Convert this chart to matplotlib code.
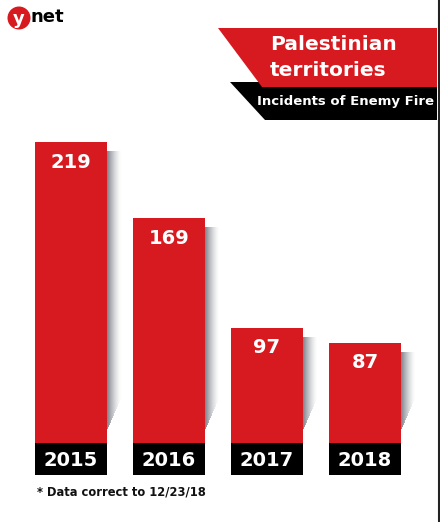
import numpy as np
import matplotlib.pyplot as plt
from matplotlib.patches import Polygon, Circle, Rectangle

years = ['2015', '2016', '2017', '2018']
incidents = [219, 169, 97, 87]

title_lines = ['Palestinian', 'territories']
subtitle = 'Incidents of Enemy Fire'
note = '* Data correct to 12/23/18'

RED = '#d71920'
W, H = 440, 522

fig = plt.figure(figsize=(W / 100, H / 100), dpi=100)
fig.patch.set_facecolor('white')

# bar axes: baseline at y=475px, 1.52 px per incident
px_per_unit = 1.52
ymax = 230
ax = fig.add_axes([0, 47 / H, 1, ymax * px_per_unit / H])
ax.set_xlim(-71 / 98, (W - 71) / 98)
ax.set_ylim(0, ymax)
ax.axis('off')

x = np.arange(len(years))
bw = 72 / 98
box_h = 32 / px_per_unit

# soft shadow on the right of each bar
for xi, v in zip(x, incidents):
    n = 14
    for k in range(n):
        a = 0.75 * (1 - k / n) ** 1.5
        ax.add_patch(Rectangle((xi + bw / 2 + k / 98, 30 + k * 1.5),
                               1 / 98, v - 30 - k * 1.5 - 6,
                               color='#5a5f6a', alpha=a, lw=0, zorder=1))

ax.bar(x, incidents, width=bw, color=RED, zorder=2)
ax.bar(x, [box_h] * len(x), width=bw, color='black', zorder=3)

for xi, v, yr in zip(x, incidents, years):
    ax.text(xi, v - 20 / px_per_unit, str(v), color='white', fontsize=14,
            fontweight='bold', ha='center', va='center', zorder=4)
    ax.text(xi, box_h / 2 - 1, yr, color='white', fontsize=14,
            fontweight='bold', ha='center', va='center', zorder=4)

# overlay in pixel coordinates
ov = fig.add_axes([0, 0, 1, 1], zorder=5)
ov.set_xlim(0, W)
ov.set_ylim(H, 0)
ov.axis('off')
ov.patch.set_alpha(0)

ov.add_patch(Polygon([(230, 82), (437, 82), (437, 120), (265, 120)],
                     closed=True, color='black', lw=0))
ov.add_patch(Polygon([(218, 28), (437, 28), (437, 87), (262, 87)],
                     closed=True, color=RED, lw=0))
ov.text(270, 45, title_lines[0], color='white', fontsize=14.5, fontweight='bold',
        ha='left', va='center')
ov.text(270, 70, title_lines[1], color='white', fontsize=14.5, fontweight='bold',
        ha='left', va='center')
ov.text(257, 102, subtitle, color='white', fontsize=9.5, fontweight='bold',
        ha='left', va='center')

# logo
ov.add_patch(Circle((19, 18), 11.5, color=RED, lw=0))
ov.text(19, 19, 'y', color='white', fontsize=13, fontweight='bold',
        ha='center', va='center')
ov.text(31, 17, 'net', color='black', fontsize=13, fontweight='bold',
        ha='left', va='center')

# footnote
ov.text(37, 492, note, color='#111111', fontsize=8.3, fontweight='bold',
        ha='left', va='center')

# right border line
ov.plot([438.5, 438.5], [0, H], color='#222222', lw=1.5)

fig.savefig('out.png', dpi=100)
